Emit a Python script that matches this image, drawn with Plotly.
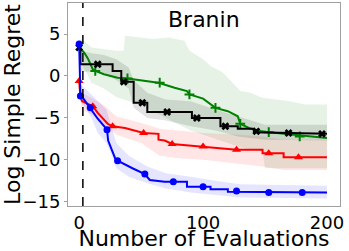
import plotly.graph_objects as go

# ---------------- data ----------------
title_text = "Branin"
x_label = "Number of Evaluations"
y_label = "Log Simple Regret"
x_ticks = [0, 100, 200]
y_ticks = [-15, -10, -5, 0, 5]
init_evals = 3  # dashed vertical line

# Black series
black_x = [0, 1, 1, 27, 27, 34, 34, 44, 44, 55, 55, 91, 91, 114, 114, 128, 128, 141, 141, 200]
black_y = [3.8, 3.8, 1.4, 1.4, 0.6, 0.6, -0.7, -0.7, -3.2, -3.2, -4.3, -4.3, -5.0, -5.0, -6.0, -6.0, -6.3, -6.3, -6.7, -6.9]
black_mx = [0, 15, 36, 51, 71, 95, 118, 143, 169, 196]
black_my = [3.4, 1.4, -0.7, -3.2, -4.3, -5.0, -6.0, -6.6, -6.8, -6.9]
black_bx = [0, 1, 10, 20, 30, 40, 44, 55, 70, 90, 110, 128, 150, 200]
black_hi = [4.5, 3.0, 2.7, 2.5, 2.0, 1.0, -0.5, -2.0, -2.8, -3.0, -4.0, -4.8, -5.8, -5.8]
black_lo = [3.0, 0.5, 0.5, 0.3, -0.5, -1.5, -3.8, -5.0, -5.3, -6.0, -6.5, -7.2, -7.6, -7.7]

# Blue series
blue_x = [0, 1, 3, 9, 15, 22.5, 23.4, 26.6, 29, 31, 35.5, 43, 53, 57, 69, 87, 87, 106, 106, 120, 120, 200]
blue_y = [3.9, -2.2, -2.6, -3.8, -5.1, -6.4, -7.7, -8.9, -9.8, -10.1, -10.4, -11.0, -11.7, -12.4, -12.6, -12.6, -13.2, -13.2, -13.5, -13.5, -13.8, -13.9]
blue_mx = [0, 1, 9, 22.5, 31, 53, 76, 100, 127, 153, 180]
blue_my = [3.8, -2.4, -3.8, -6.4, -10.1, -11.7, -12.6, -13.2, -13.7, -13.9, -13.9]
blue_bx = [0, 1, 5, 10, 15, 22, 25, 30, 40, 55, 70, 90, 110, 130, 200]
blue_hi = [4.3, -1.0, -1.5, -2.2, -3.0, -4.0, -5.5, -8.0, -9.5, -10.8, -11.6, -12.0, -12.5, -12.9, -13.1]
blue_lo = [3.4, -3.0, -3.8, -5.0, -6.8, -8.0, -9.0, -11.0, -12.0, -12.8, -13.4, -13.9, -14.2, -14.5, -14.6]

# Red series
red_x = [0, 1, 2.4, 11, 15, 23, 27, 37, 52, 60, 64, 64, 69, 75, 100, 127, 148, 148, 165, 165, 200]
red_y = [-0.6, -2.5, -3.0, -3.6, -4.4, -5.7, -6.0, -6.2, -6.8, -6.9, -6.9, -7.6, -7.7, -8.1, -8.4, -8.8, -8.8, -9.2, -9.2, -9.7, -9.7]
red_mx = [0, 11, 27, 52, 75, 100, 127, 153, 177]
red_my = [-0.6, -3.6, -6.0, -6.8, -8.1, -8.4, -8.8, -9.2, -9.7]
red_bx = [0, 2, 10, 20, 30, 50, 65, 80, 100, 130, 148, 165, 200]
red_hi = [-0.2, -2.0, -2.6, -3.5, -4.8, -5.6, -6.3, -6.5, -6.8, -7.0, -7.2, -7.6, -7.6]
red_lo = [-1.0, -4.0, -4.6, -5.8, -7.0, -8.0, -9.5, -9.8, -10.0, -10.5, -10.8, -11.2, -11.2]

# Green series
green_x = [0, 1, 4, 7, 11, 13, 20, 31, 39, 50, 64, 77, 87, 89, 100, 110, 120, 128, 130, 137, 143, 153, 165, 178, 190, 200]
green_y = [3.6, 3.3, 2.8, 2.1, 0.8, 0.6, 0.2, -0.2, -0.3, -0.5, -0.8, -1.4, -1.8, -2.2, -2.7, -3.8, -4.2, -4.8, -5.7, -6.2, -6.5, -6.7, -6.9, -7.1, -7.3, -7.4]
green_mx = [13, 39, 65, 89, 110, 130, 153, 178]
green_my = [0.6, -0.3, -0.8, -2.2, -3.8, -5.7, -6.7, -7.2]
green_hix = [0, 2, 10, 30, 36, 37, 60, 72, 85, 89, 100, 106, 116, 125, 130, 138, 148, 170, 182, 200]
green_hi = [3.8, 4.4, 3.4, 3.0, 3.0, 4.8, 4.4, 4.6, 4.2, 3.0, 2.0, 1.2, 0.4, -1.0, -1.8, -2.0, -2.6, -3.0, -3.4, -3.4]
green_lox = [0, 2, 10, 20, 30, 50, 70, 90, 110, 130, 148, 150, 200]
green_lo = [3.0, 1.5, -0.8, -1.5, -2.5, -3.5, -5.0, -6.5, -7.5, -8.5, -9.0, -11.0, -11.0]

# ---------------- figure ----------------
fig = go.Figure()


def band(xh, yh, xl, yl, rgba):
    fig.add_trace(go.Scatter(
        x=list(xh) + list(xl)[::-1], y=list(yh) + list(yl)[::-1],
        fill="toself", fillcolor=rgba, line=dict(width=0),
        mode="lines", hoverinfo="skip", showlegend=False))


band(green_hix, green_hi, green_lox, green_lo, "rgba(0,128,0,0.10)")
band(black_bx, black_hi, black_bx, black_lo, "rgba(0,0,0,0.11)")
band(red_bx, red_hi, red_bx, red_lo, "rgba(255,0,0,0.10)")
band(blue_bx, blue_hi, blue_bx, blue_lo, "rgba(0,0,255,0.10)")


def series(x, y, mx, my, color, symbol, size, mline=0):
    fig.add_trace(go.Scatter(x=x, y=y, mode="lines",
                             line=dict(color=color, width=2), showlegend=False))
    fig.add_trace(go.Scatter(x=mx, y=my, mode="markers",
                             marker=dict(color=color, symbol=symbol, size=size,
                                         line=dict(color=color, width=mline)),
                             showlegend=False))


series(green_x, green_y, green_mx, green_my, "#008000", "cross-thin", 7, 2)
series(black_x, black_y, black_mx, black_my, "black", "x", 7)
series(red_x, red_y, red_mx, red_my, "#ff0000", "triangle-up", 8)
series(blue_x, blue_y, blue_mx, blue_my, "#0000ff", "circle", 7)

fig.add_vline(x=init_evals, line=dict(color="black", width=1.5, dash="dash"))

fig.add_annotation(text=title_text, x=0.5, y=0.99, xref="paper", yref="paper",
                   xanchor="center", yanchor="top", showarrow=False,
                   font=dict(size=22, color="black"))

axis_common = dict(showline=True, mirror=True, linecolor="#a0a0a0", linewidth=1,
                   showgrid=False, zeroline=False,
                   tickfont=dict(size=18, color="black"), automargin=False)

fig.update_xaxes(range=[-9, 210.5], tickvals=x_ticks, ticks="",
                 title=dict(text=x_label, font=dict(size=22, color="black"), standoff=0),
                 **axis_common)
fig.update_yaxes(range=[-15.5, 8.7], tickvals=y_ticks, ticks="outside", ticklen=3,
                 tickcolor="#a0a0a0",
                 ticktext=[f"\u2212{abs(v)}" if v < 0 else str(v) for v in y_ticks],
                 title=dict(text=y_label, font=dict(size=22, color="black"), standoff=2),
                 **axis_common)

fig.update_layout(width=349, height=251,
                  margin=dict(l=68, r=9, t=3, b=45, autoexpand=False),
                  plot_bgcolor="white", paper_bgcolor="white",
                  font=dict(family="DejaVu Sans", color="black"),
                  showlegend=False)

fig.write_html("out.html", config={"displayModeBar": False},
               post_script="document.body.style.margin='0';document.body.style.overflow='hidden';")
